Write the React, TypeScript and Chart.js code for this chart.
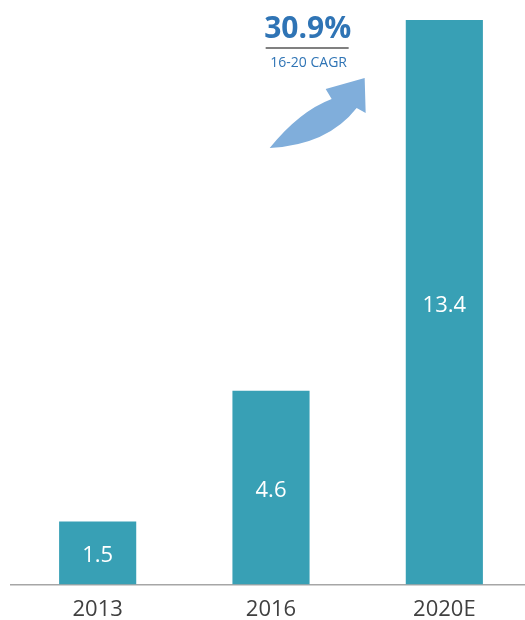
import React, { useEffect, useRef } from "react";
import { Chart, registerables } from "chart.js";

Chart.register(...registerables);

const categories = ["2013", "2016", "2020E"];
const values = [1.5, 4.6, 13.4];
const valueLabels = ["1.5", "4.6", "13.4"];
const cagrText = "30.9%";
const cagrSub = "16-20 CAGR";

const BAR = "#38A0B5";
const BLUE = "#2F74B5";
const ARROW = "#80AEDB";

const overlay = {
  id: "overlay",
  afterDatasetsDraw(chart: any) {
    const { ctx } = chart;
    const meta = chart.getDatasetMeta(0);
    ctx.save();
    // value labels inside bars
    ctx.fillStyle = "#FFFFFF";
    ctx.font = "22px 'Open Sans'";
    ctx.textAlign = "center";
    ctx.textBaseline = "middle";
    meta.data.forEach((bar: any, i: number) => {
      const mid = (bar.y + bar.base) / 2 + 3;
      ctx.fillText(valueLabels[i], bar.x, mid);
    });

    // annotation anchored relative to bars
    const b1 = meta.data[1];
    const b2 = meta.data[2];
    const cx = (b1.x + b2.x) / 2 - 50; // ~308
    const top = chart.chartArea.top;
    ctx.fillStyle = BLUE;
    ctx.font = "bold 30px 'Open Sans'";
    ctx.textBaseline = "alphabetic";
    ctx.fillText(cagrText, cx, top + 18);
    ctx.strokeStyle = "#808080";
    ctx.lineWidth = 2;
    ctx.beginPath();
    ctx.moveTo(cx - 42, top + 28);
    ctx.lineTo(cx + 41, top + 28);
    ctx.stroke();
    ctx.font = "14px 'Open Sans'";
    ctx.fillText(cagrSub, cx + 1, top + 47);

    // curved arrow
    const ox = cx - 38; // tail x ~270
    const oy = top + 128; // tail y ~148
    ctx.fillStyle = ARROW;
    ctx.beginPath();
    ctx.moveTo(ox, oy);
    ctx.quadraticCurveTo(ox + 30, oy - 37, ox + 62, oy - 49);
    ctx.lineTo(ox + 56, oy - 59);
    ctx.lineTo(ox + 95, oy - 70);
    ctx.lineTo(ox + 96, oy - 35);
    ctx.lineTo(ox + 87, oy - 40);
    ctx.quadraticCurveTo(ox + 58, oy - 3, ox, oy);
    ctx.closePath();
    ctx.fill();
    ctx.restore();
  },
};

export default function App() {
  const ref = useRef<HTMLCanvasElement | null>(null);
  useEffect(() => {
    if (!ref.current) return;
    const chart = new Chart(ref.current, {
      type: "bar",
      data: {
        labels: categories,
        datasets: [
          {
            data: values,
            backgroundColor: BAR,
            borderWidth: 0,
            barPercentage: 0.89,
            categoryPercentage: 0.5,
          },
        ],
      },
      options: {
        responsive: false,
        animation: false,
        layout: { padding: { left: 11, right: 2, top: 20, bottom: 0 } },
        plugins: { legend: { display: false }, tooltip: { enabled: false } },
        scales: {
          x: {
            grid: { display: true, color: "rgba(0,0,0,0)", drawTicks: false },
            border: { display: true, color: "#A6A6A6", width: 1.5 },
            ticks: {
              color: "#404040",
              font: { family: "'Open Sans'", size: 22 },
              padding: 12,
            },
          },
          y: { display: false, min: 0, max: 13.4 },
        },
      },
      plugins: [overlay],
    });
    return () => chart.destroy();
  }, []);
  return (
    <div
      style={{
        position: "absolute",
        left: 0,
        top: 0,
        width: 525,
        height: 620,
        overflow: "hidden",
        background: "#fff",
      }}
    >
      <canvas ref={ref} width={533} height={635} style={{ display: "block" }} />
    </div>
  );
}
